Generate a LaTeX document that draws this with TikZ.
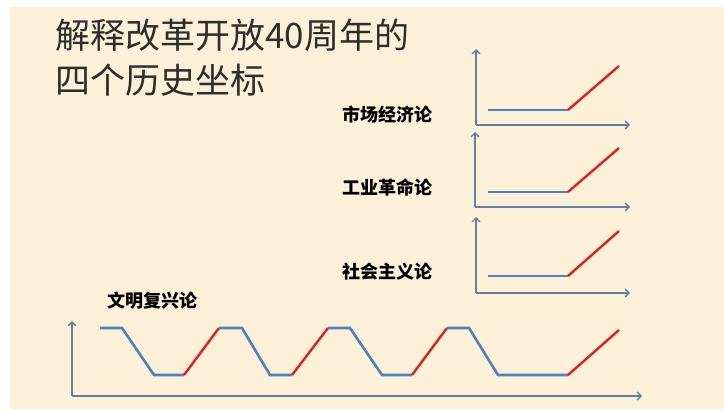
\documentclass[tikz,border=0pt]{standalone}
\usepackage{fontspec}
\setmainfont{Noto Sans CJK SC}
\usetikzlibrary{arrows.meta}
\definecolor{bg}{RGB}{252,240,217}
\definecolor{lineblue}{RGB}{79,129,189}
\definecolor{axisblue}{RGB}{95,128,170}
\definecolor{linered}{RGB}{222,32,30}
\definecolor{titlegray}{RGB}{45,45,45}
\begin{document}
\begin{tikzpicture}[x=1pt,y=-1pt,
  axis/.style={axisblue,line width=1.3pt,-{Straight Barb[length=4pt,width=8pt]}},
  blueline/.style={lineblue,line width=2.6pt},
  redline/.style={linered,line width=2.4pt},
  lbl/.style={font=\fontsize{18}{20}\selectfont\bfseries, inner sep=0pt, text=black},
  ttl/.style={font=\fontsize{35}{42}\selectfont, inner sep=0pt, text=titlegray, anchor=west}]
\fill[white] (0,0) rectangle (724,412);
\fill[bg] (10,7) rectangle (724,409);
\useasboundingbox (0,0) rectangle (724,412);
% title
\node[ttl] (t1) at (55,35) {解释改革开放40周年的};
\node[ttl] (t2) at (55,80) {四个历史坐标};
% labels
\node[lbl] (l1) at (387,115) {市场经济论};
\node[lbl] (l2) at (387,188) {工业革命论};
\node[lbl] (l3) at (387,272) {社会主义论};
\node[lbl] (l4) at (152,301) {文明复兴论};
% graph 1
\coordinate (o1) at (476,125); \coordinate (y1) at (476,49); \coordinate (x1) at (630,125);
\coordinate (a1) at (488,110); \coordinate (b1) at (568,110); \coordinate (c1) at (619,66);
\draw[axis] (o1) -- (y1);
\draw[axis] (o1) -- (x1);
\draw[blueline] (a1) -- (b1);
\draw[redline] (b1) -- (c1);
% graph 2
\coordinate (o2) at (475,207); \coordinate (y2) at (475,132); \coordinate (x2) at (630,207);
\coordinate (a2) at (488,192); \coordinate (b2) at (568,192); \coordinate (c2) at (619,148);
\draw[axis] (o2) -- (y2);
\draw[axis] (o2) -- (x2);
\draw[blueline] (a2) -- (b2);
\draw[redline] (b2) -- (c2);
% graph 3
\coordinate (o3) at (476,293); \coordinate (y3) at (476,217); \coordinate (x3) at (630,293);
\coordinate (a3) at (488,276); \coordinate (b3) at (568,276); \coordinate (c3) at (619,231);
\draw[axis] (o3) -- (y3);
\draw[axis] (o3) -- (x3);
\draw[blueline] (a3) -- (b3);
\draw[redline] (b3) -- (c3);
% bottom graph
\coordinate (o4) at (72,396); \coordinate (y4) at (72,321); \coordinate (x4) at (642,396);
\draw[axis] (o4) -- (y4);
\draw[axis] (o4) -- (x4);
\coordinate (w0) at (100,328); \coordinate (w1) at (122,328); \coordinate (w2) at (154,375); \coordinate (w3) at (184,375);
\coordinate (w4) at (219,328); \coordinate (w5) at (242,328); \coordinate (w6) at (270,375); \coordinate (w7) at (292,375);
\coordinate (w8) at (328,328); \coordinate (w9) at (350,328); \coordinate (w10) at (382,375); \coordinate (w11) at (412,375);
\coordinate (w12) at (447,328); \coordinate (w13) at (469,328); \coordinate (w14) at (498,375); \coordinate (w15) at (568,375);
\coordinate (w16) at (619,330);
\draw[blueline] (w0) -- (w1) -- (w2) -- (w3);
\draw[redline] (w3) -- (w4);
\draw[blueline] (w4) -- (w5) -- (w6) -- (w7);
\draw[redline] (w7) -- (w8);
\draw[blueline] (w8) -- (w9) -- (w10) -- (w11);
\draw[redline] (w11) -- (w12);
\draw[blueline] (w12) -- (w13) -- (w14) -- (w15);
\draw[redline] (w15) -- (w16);
\end{tikzpicture}
\end{document}
